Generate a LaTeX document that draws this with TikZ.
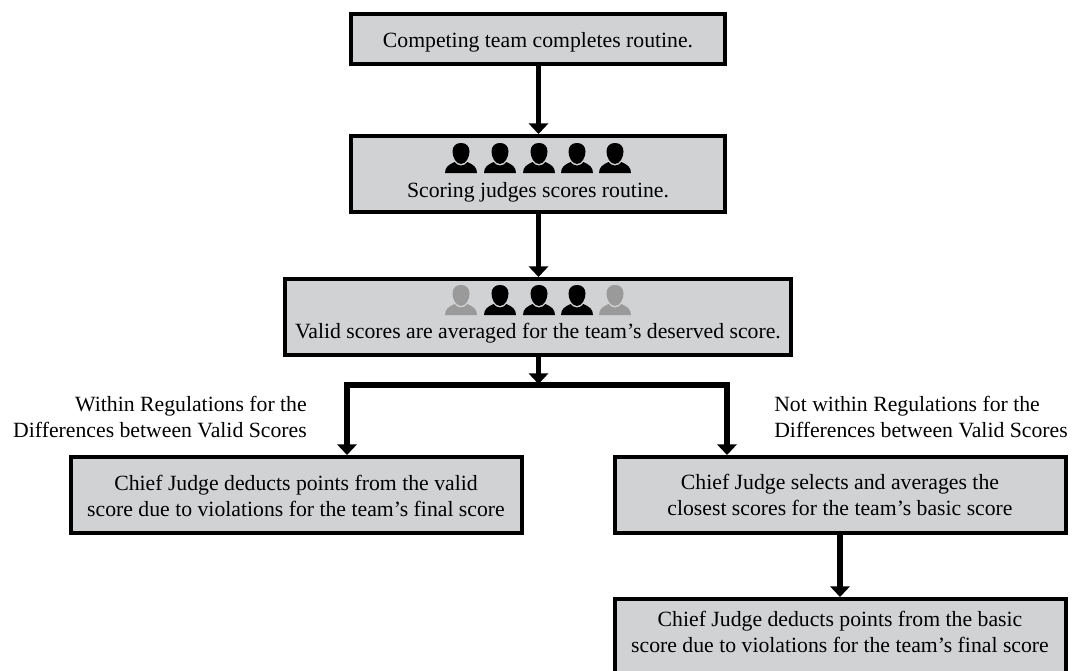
\documentclass[tikz,border=0pt]{standalone}
\usepackage{fontspec}
\setmainfont{Liberation Serif}
\usetikzlibrary{arrows.meta}
\definecolor{boxgray}{HTML}{D1D2D4}
\definecolor{mutedgray}{HTML}{9A9A9A}
\tikzset{
  x=0.75pt,y=-0.75pt,
  flowbox/.style={draw=black,fill=boxgray,line width=3.2pt,inner sep=0pt,anchor=north west},
  flowarrow/.style={line width=3.8pt,-{Triangle[width=14.5pt,length=8pt]}},
  flowline/.style={line width=3.8pt},
  boxtext/.style={inner sep=0pt,align=center,anchor=base,font=\fontsize{16.3}{19.5}\selectfont},
  lab/.style={inner sep=0pt,font=\fontsize{16.3}{19.5}\selectfont},
  person/.pic={
    \fill[pic actions] (-8.5,-6.5) .. controls (-8.5,-12) and (-5,-15) .. (0,-15) .. controls (5,-15) and (8.5,-12) .. (8.5,-6.5) .. controls (8.5,-1) and (5,6) .. (0,6) .. controls (-5,6) and (-8.5,-1) .. (-8.5,-6.5) -- cycle;
    \fill[pic actions] (-16,15) .. controls (-16,9) and (-12,6.5) .. (-6.5,4) .. controls (-4.5,6.5) and (-2.5,7.5) .. (0,7.5) .. controls (2.5,7.5) and (4.5,6.5) .. (6.5,4) .. controls (12,6.5) and (16,9) .. (16,15) -- cycle;
  }
}
\begin{document}
\begin{tikzpicture}
\useasboundingbox (0,0) rectangle (1072,671);
\clip (0,0) rectangle (1072,671);
\node[flowbox,minimum width=280.3pt,minimum height=37.3pt] (b1) at (349,12) {};
\node[flowbox,minimum width=280.3pt,minimum height=56.8pt] (b2) at (349,134) {};
\node[flowbox,minimum width=379.3pt,minimum height=56.8pt] (b3) at (283,277) {};
\node[flowbox,minimum width=338.3pt,minimum height=56.8pt] (b4) at (69,455) {};
\node[flowbox,minimum width=338.3pt,minimum height=56.8pt] (b5) at (613,455) {};
\node[flowbox,minimum width=338.3pt,minimum height=70pt] (b6) at (613,597) {};
\node[boxtext] (t1) at (538,47) {Competing team completes routine.};
\node[boxtext] (t2) at (538,197) {Scoring judges scores routine.};
\node[boxtext] (t3) at (538,338) {Valid scores are averaged for the team’s deserved score.};
\node[boxtext] (t4) at (296,516) {Chief Judge deducts points from the valid\\score due to violations for the team’s final score};
\node[boxtext] (t5) at (840,515) {Chief Judge selects and averages the\\closest scores for the team’s basic score};
\node[boxtext] (t6) at (840,652) {Chief Judge deducts points from the basic\\score due to violations for the team’s final score};
\foreach \px in {461,500,539,577,615} \pic[black] at (\px,158) {person};
\foreach \px in {461,615} \pic[mutedgray] at (\px,300) {person};
\foreach \px in {500,539,577} \pic[black] at (\px,300) {person};
\coordinate (split) at (538.5,384);
\coordinate (bl) at (347,385);
\coordinate (br) at (727,385);
\draw[flowarrow] (b1.south -| split) -- (b2.north -| split);
\draw[flowarrow] (b2.south -| split) -- (b3.north -| split);
\draw[flowarrow] (b3.south -| split) -- (split);
\draw[flowline,line cap=rect] (bl) -- (br);
\draw[flowarrow] (bl) -- (bl |- b4.north);
\draw[flowarrow] (br) -- (br |- b5.north);
\draw[flowarrow] (b5.south -| t6) -- (b6.north -| t6);
\node[lab,align=right,anchor=base east] (l1) at (307,437) {Within Regulations for the\\Differences between Valid Scores};
\node[lab,align=left,anchor=base west] (l2) at (774,437) {Not within Regulations for the\\Differences between Valid Scores};
\end{tikzpicture}
\end{document}
